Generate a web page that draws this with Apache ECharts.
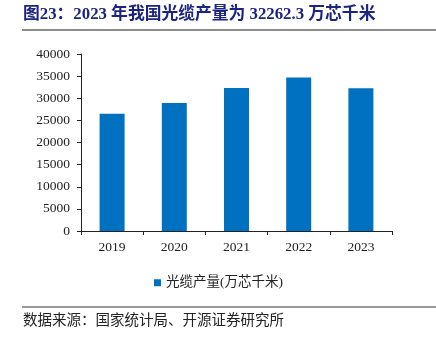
<!DOCTYPE html>
<html>
<head>
<meta charset="utf-8">
<script src="https://cdn.jsdelivr.net/npm/echarts@6/dist/echarts.min.js"></script>
<style>
  html, body { margin: 0; padding: 0; background: #fff; }
  #chart { width: 436px; height: 342px; }
</style>
</head>
<body>
<div id="chart"></div>
<script>
// Annual optical cable output, China (10k core-km)
const years = ['2019', '2020', '2021', '2022', '2023'];
const cableOutput = [26500, 28900, 32300, 34700, 32262.3];
const yTicks = { min: 0, max: 40000, interval: 5000 };

const titleText = '图23：2023 年我国光缆产量为 32262.3 万芯千米';
const seriesName = '光缆产量(万芯千米)';
const sourceText = '数据来源：国家统计局、开源证券研究所';

const serif = '"Liberation Serif", "Noto Sans CJK SC", serif';
const cjk = '"Liberation Serif", "Noto Sans CJK SC", sans-serif';

const chart = echarts.init(document.getElementById('chart'), null, { renderer: 'canvas' });
chart.setOption({
  animation: false,
  backgroundColor: '#fff',
  grid: { left: 81, right: 44, top: 54, bottom: 111, containLabel: false },
  legend: {
    data: [seriesName],
    top: 271,
    left: 149,
    itemWidth: 7,
    itemHeight: 7,
    itemGap: 4,
    icon: 'rect',
    textStyle: { fontFamily: cjk, fontSize: 13.5, color: '#222' }
  },
  xAxis: {
    type: 'category',
    data: years,
    axisLine: { lineStyle: { color: '#222', width: 1 } },
    axisTick: { show: true, length: 4, lineStyle: { color: '#222' } },
    axisLabel: { fontFamily: serif, fontSize: 13.5, color: '#222', margin: 10 }
  },
  yAxis: {
    type: 'value',
    min: yTicks.min,
    max: yTicks.max,
    interval: yTicks.interval,
    splitLine: { show: false },
    axisLine: { show: true, lineStyle: { color: '#222', width: 1 } },
    axisTick: { show: true, length: 4, lineStyle: { color: '#222' } },
    axisLabel: {
      fontFamily: serif, fontSize: 13.5, color: '#222', margin: 11,
      formatter: v => String(v)
    }
  },
  series: [{
    name: seriesName,
    type: 'bar',
    data: cableOutput,
    barWidth: 25,
    itemStyle: { color: '#0070C0' }
  }],
  graphic: [
    {
      type: 'text', left: 23, top: 6,
      style: { text: titleText, font: 'bold 16.8px ' + cjk, fill: '#1c2480' }
    },
    {
      type: 'line',
      shape: { x1: 22, y1: 30, x2: 436, y2: 30 },
      style: { stroke: '#8c8c8c', lineWidth: 2 }
    },
    {
      type: 'line',
      shape: { x1: 22, y1: 307, x2: 436, y2: 307 },
      style: { stroke: '#333', lineWidth: 1 }
    },
    {
      type: 'text', left: 23, top: 314,
      style: { text: sourceText, font: '14.5px ' + cjk, fill: '#222' }
    }
  ]
});
</script>
</body>
</html>
